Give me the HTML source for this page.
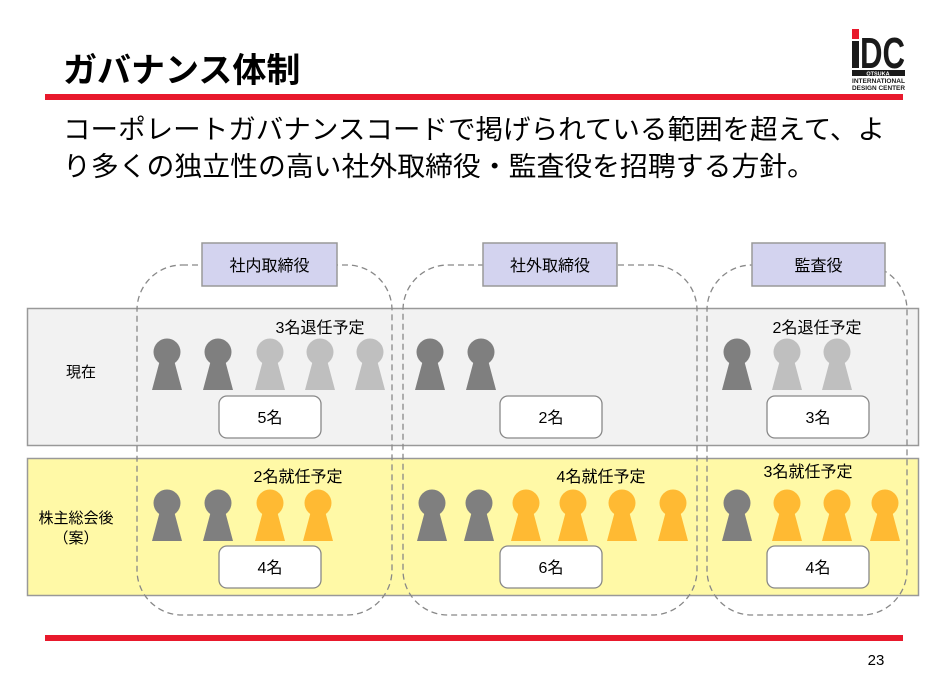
<!DOCTYPE html>
<html><head><meta charset="utf-8"><style>
body{margin:0;background:#fff;}
svg text{font-family:"Liberation Sans","Noto Sans CJK JP",sans-serif;}
</style></head><body>
<svg width="937" height="678" viewBox="0 0 937 678" xmlns="http://www.w3.org/2000/svg">
<defs>
<g id="p"><circle cx="0" cy="0" r="13.5"/><path d="M-7 8 L7 8 L15 38 L-15 38 Z"/></g>
</defs>
<text x="63" y="82" font-size="34" font-weight="bold" fill="#000">ガバナンス体制</text>
<rect x="45" y="94" width="858" height="6" fill="#e8192c"/>
<!-- logo -->
<rect x="852" y="29" width="7" height="10" fill="#e8192c"/>
<rect x="852" y="41" width="7" height="27" fill="#1a1a1a"/>
<text x="860" y="68" font-size="44" font-weight="bold" fill="#1a1a1a" textLength="45" lengthAdjust="spacingAndGlyphs">DC</text>
<rect x="852" y="70" width="53" height="6" fill="#1a1a1a"/>
<text x="878" y="75.5" font-size="5.5" fill="#fff" text-anchor="middle" font-weight="bold">OTSUKA</text>
<text x="852" y="83" font-size="6.5" fill="#1a1a1a" textLength="53" lengthAdjust="spacingAndGlyphs" font-weight="bold">INTERNATIONAL</text>
<text x="852" y="90" font-size="6.5" fill="#1a1a1a" textLength="53" lengthAdjust="spacingAndGlyphs" font-weight="bold">DESIGN CENTER</text>
<text x="63" y="139" font-size="27" fill="#000" textLength="822" lengthAdjust="spacingAndGlyphs">コーポレートガバナンスコードで掲げられている範囲を超えて、よ</text>
<text x="63" y="176" font-size="27" fill="#000" textLength="752" lengthAdjust="spacingAndGlyphs">り多くの独立性の高い社外取締役・監査役を招聘する方針。</text>
<!-- bands -->
<rect x="27.5" y="308.5" width="891" height="137" fill="#f2f2f2" stroke="#999" stroke-width="1.5"/>
<rect x="27.5" y="458.5" width="891" height="137" fill="#fff9a6" stroke="#999" stroke-width="1.5"/>
<text x="81" y="377" font-size="15" text-anchor="middle">現在</text>
<text x="76" y="523" font-size="15" text-anchor="middle">株主総会後</text>
<text x="76" y="543" font-size="15" text-anchor="middle">（案）</text>
<!-- dashed groups -->
<g fill="none" stroke="#888" stroke-width="1.3" stroke-dasharray="6,4">
<rect x="137" y="265" width="255" height="350" rx="45"/>
<rect x="403" y="265" width="294" height="350" rx="45"/>
<rect x="707" y="265" width="200" height="350" rx="45"/>
</g>
<g stroke="#999" stroke-width="1.5" fill="#d3d3ef">
<rect x="202" y="243" width="135" height="43"/>
<rect x="483" y="243" width="134" height="43"/>
<rect x="752" y="243" width="133" height="43"/>
</g>
<g font-size="16" text-anchor="middle">
<text x="269.5" y="271">社内取締役</text>
<text x="550" y="271">社外取締役</text>
<text x="818.5" y="271">監査役</text>
<text x="320" y="333">3名退任予定</text>
<text x="817" y="333">2名退任予定</text>
<text x="298" y="482">2名就任予定</text>
<text x="601" y="482">4名就任予定</text>
<text x="808" y="477">3名就任予定</text>
</g>
<g fill="#7f7f7f">
<use href="#p" x="167" y="352"/><use href="#p" x="218" y="352"/>
<use href="#p" x="430" y="352"/><use href="#p" x="481" y="352"/>
<use href="#p" x="737" y="352"/>
<use href="#p" x="167" y="503"/><use href="#p" x="218" y="503"/>
<use href="#p" x="432" y="503"/><use href="#p" x="479" y="503"/>
<use href="#p" x="737" y="503"/>
</g>
<g fill="#bfbfbf">
<use href="#p" x="270" y="352"/><use href="#p" x="320" y="352"/><use href="#p" x="370" y="352"/>
<use href="#p" x="787" y="352"/><use href="#p" x="837" y="352"/>
</g>
<g fill="#ffba33">
<use href="#p" x="270" y="503"/><use href="#p" x="318" y="503"/>
<use href="#p" x="526" y="503"/><use href="#p" x="573" y="503"/><use href="#p" x="622" y="503"/><use href="#p" x="673" y="503"/>
<use href="#p" x="787" y="503"/><use href="#p" x="837" y="503"/><use href="#p" x="885" y="503"/>
</g>
<g fill="#fff" stroke="#888" stroke-width="1.3">
<rect x="219" y="396" width="102" height="42" rx="8"/>
<rect x="500" y="396" width="102" height="42" rx="8"/>
<rect x="767" y="396" width="102" height="42" rx="8"/>
<rect x="219" y="546" width="102" height="42" rx="8"/>
<rect x="500" y="546" width="102" height="42" rx="8"/>
<rect x="767" y="546" width="102" height="42" rx="8"/>
</g>
<g font-size="16" text-anchor="middle">
<text x="270" y="423">5名</text><text x="551" y="423">2名</text><text x="818" y="423">3名</text>
<text x="270" y="573">4名</text><text x="551" y="573">6名</text><text x="818" y="573">4名</text>
</g>
<rect x="45" y="635" width="858" height="6" fill="#e8192c"/>
<text x="876" y="665" font-size="15" text-anchor="middle">23</text>
</svg>
</body></html>
